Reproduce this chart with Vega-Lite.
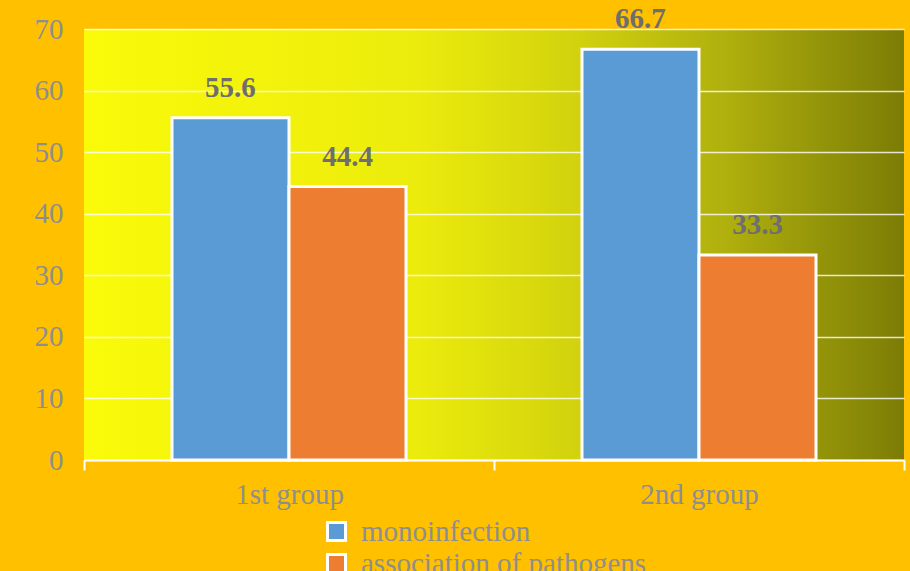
{
  "$schema": "https://vega.github.io/schema/vega-lite/v6.json",
  "width": 820,
  "height": 431,
  "autosize": {"type": "none"},
  "padding": {"left": 84, "top": 29, "right": 6, "bottom": 111},
  "background": "#FFC000",
  "config": {
    "view": {
      "stroke": null,
      "fill": {
        "gradient": "linear",
        "x1": 0, "y1": 0, "x2": 1, "y2": 0,
        "stops": [
          {"offset": 0, "color": "#FAFA0A"},
          {"offset": 0.4, "color": "#ECEC0C"},
          {"offset": 0.6, "color": "#D2D20E"},
          {"offset": 0.78, "color": "#B0B00E"},
          {"offset": 1, "color": "#7C7C06"}
        ]
      }
    },
    "font": "Liberation Serif"
  },
  "data": {
    "values": [
      {"group": "1st group", "type": "monoinfection", "value": 55.6},
      {"group": "1st group", "type": "association of pathogens", "value": 44.4},
      {"group": "2nd group", "type": "monoinfection", "value": 66.7},
      {"group": "2nd group", "type": "association of pathogens", "value": 33.3}
    ]
  },
  "encoding": {
    "x": {
      "field": "group",
      "type": "nominal",
      "scale": {"paddingInner": 0, "paddingOuter": 0},
      "axis": {
        "title": null,
        "labelAngle": 0,
        "labelFont": "Liberation Serif",
        "labelFontSize": 29,
        "labelColor": "#8E8E8E",
        "labelPadding": 10,
        "domainColor": "#FFFFFF",
        "domainWidth": 2,
        "tickColor": "#FFFFFF",
        "tickWidth": 2,
        "tickSize": 10,
        "tickBand": "extent"
      }
    },
    "xOffset": {
      "field": "type",
      "type": "nominal",
      "sort": ["monoinfection", "association of pathogens"],
      "scale": {"paddingInner": 0, "paddingOuter": 0.752}
    },
    "y": {
      "field": "value",
      "type": "quantitative",
      "scale": {"domain": [0, 70]},
      "axis": {
        "title": null,
        "values": [0, 10, 20, 30, 40, 50, 60, 70],
        "domain": false,
        "ticks": false,
        "labelFont": "Liberation Serif",
        "labelFontSize": 29,
        "labelColor": "#8E8E8E",
        "labelPadding": 21,
        "gridColor": "#FFFFFF",
        "gridOpacity": 0.8,
        "gridWidth": 1.5
      }
    }
  },
  "layer": [
    {
      "mark": {"type": "bar", "stroke": "#FFFFFF", "strokeWidth": 3},
      "encoding": {
        "color": {
          "field": "type",
          "type": "nominal",
          "sort": ["monoinfection", "association of pathogens"],
          "scale": {
            "domain": ["monoinfection", "association of pathogens"],
            "range": ["#5B9BD5", "#ED7D31"]
          },
          "legend": {
            "title": null,
            "orient": "none",
            "legendX": 238,
            "legendY": 488,
            "direction": "vertical",
            "padding": 0,
            "symbolType": "square",
            "symbolSize": 324,
            "symbolStrokeColor": "#FFFFFF",
            "symbolStrokeWidth": 3,
            "symbolOpacity": 1,
            "labelFont": "Liberation Serif",
            "labelFontSize": 29,
            "labelColor": "#8E8E8E",
            "labelOffset": 10,
            "rowPadding": 1,
            "labelLimit": 400
          }
        }
      }
    },
    {
      "mark": {
        "type": "text",
        "baseline": "bottom",
        "dy": -15,
        "font": "Liberation Serif",
        "fontWeight": "bold",
        "fontSize": 29,
        "color": "#6E6E6E"
      },
      "encoding": {
        "text": {"field": "value", "type": "quantitative", "format": ".1f"}
      }
    }
  ]
}
